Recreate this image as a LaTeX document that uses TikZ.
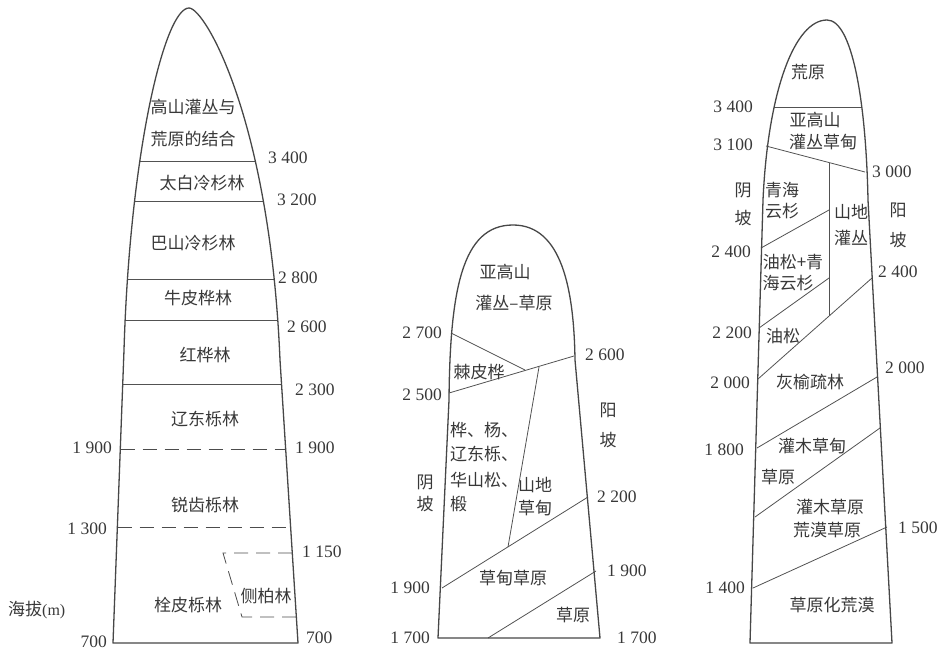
\documentclass[tikz,border=0pt]{standalone}
\usepackage{fontspec}
\setmainfont{Liberation Serif}
\newfontfamily\cjk{Noto Sans CJK SC}
\begin{document}
\begin{tikzpicture}[x=1pt,y=-1pt,
  outl/.style={draw=black!72,line width=1.3pt,line join=round},
  zline/.style={draw=black!68,line width=0.8pt},
  dline/.style={draw=black!70,line width=0.8pt,dash pattern=on 14pt off 8pt},
  zh/.style={font=\cjk\fontsize{17}{17}\selectfont,text=black!78,inner sep=0pt},
  num/.style={font=\fontsize{17.5}{17.5}\selectfont,text=black!78,inner sep=0pt},
  nl/.style={num,anchor=west},
  nr/.style={num,anchor=east}]
\useasboundingbox (0,0) rectangle (942,650);
%----------------- left mountain
\def\leftM{(113,643) -- (124,350) .. controls (130,150) and (165,8) .. (189,8) .. controls (205,8) and (270,120) .. (280,360) -- (298,643) -- cycle}
\begin{scope}
\clip \leftM;
\foreach \yy in {161,201,279,320,384}{\draw[zline] (100,\yy) -- (310,\yy);}
\end{scope}
\draw[dline] (120.5,449) -- (285.8,449);
\draw[dline] (117.5,527) -- (290.6,527);
\draw[outl] \leftM;
\draw[dline] (292,553) -- (223,553) -- (242,617) -- (296.5,617);
\node[zh] (l1) at (193,107) {高山灌丛与};
\node[zh] (l2) at (193,139) {荒原的结合};
\node[nl] (ln1) at (268,158) {3 400};
\node[zh] (l3) at (202,183) {太白冷杉林};
\node[nl] (ln2) at (277,200) {3 200};
\node[zh] (l4) at (193,243) {巴山冷杉林};
\node[nl] (ln3) at (278,278) {2 800};
\node[zh] (l5) at (198,298) {牛皮桦林};
\node[nl] (ln4) at (287,327) {2 600};
\node[zh] (l6) at (205,355) {红桦林};
\node[nl] (ln5) at (295,390) {2 300};
\node[zh] (l7) at (205,419) {辽东栎林};
\node[nr] (ln6) at (112,448) {1 900};
\node[nl] (ln7) at (295,448) {1 900};
\node[zh] (l8) at (205,505) {锐齿栎林};
\node[nr] (ln8) at (107,529) {1 300};
\node[nl] (ln9) at (302,552) {1 150};
\node[zh] (l9) at (188,605) {栓皮栎林};
\node[zh] (l10) at (266,596) {侧柏林};
\node[anchor=west,inner sep=0pt,text=black!78] (alt) at (8,610) {{\cjk\fontsize{17}{17}\selectfont 海拔}{\fontsize{16}{16}\selectfont(m)}};
\node[nr] (ln10) at (107,642) {700};
\node[nl] (ln11) at (306,638) {700};
%----------------- middle mountain
\def\midM{(438,638) -- (449,400) .. controls (450,290) and (462,225) .. (513,225) .. controls (562,225) and (574,290) .. (575,360) -- (600,638) -- cycle}
\draw[zline] (451,333) -- (525,370);
\draw[zline] (449,393) -- (574,356);
\draw[zline] (539,367) -- (508,547);
\draw[zline] (442,588) -- (588,497);
\draw[zline] (596,571) -- (488,638);
\draw[outl] \midM;
\node[zh] (m1) at (505,272) {亚高山};
\node[zh] (m2) at (514,303) {灌丛–草原};
\node[nr] (mn1) at (442,333) {2 700};
\node[zh] (m3) at (479,372) {棘皮桦};
\node[nl] (mn2) at (585,355) {2 600};
\node[nr] (mn3) at (442,395) {2 500};
\node[zh] (m4) at (608,410) {阳};
\node[zh] (m5) at (608,440) {坡};
\node[zh,anchor=west] (m6) at (450,430) {桦、杨、};
\node[zh,anchor=west] (m7) at (450,454) {辽东栎、};
\node[zh,anchor=west] (m8) at (450,480) {华山松、};
\node[zh,anchor=west] (m9) at (450,504) {椴};
\node[zh] (m10) at (425,482) {阴};
\node[zh] (m11) at (425,504) {坡};
\node[zh] (m12) at (535,485) {山地};
\node[zh] (m13) at (535,508) {草甸};
\node[nl] (mn4) at (597,497) {2 200};
\node[zh] (m14) at (513,578) {草甸草原};
\node[nr] (mn5) at (430,588) {1 900};
\node[nl] (mn6) at (607,571) {1 900};
\node[zh] (m15) at (573,615) {草原};
\node[nr] (mn7) at (430,638) {1 700};
\node[nl] (mn8) at (617,638) {1 700};
%----------------- right mountain
\def\rightM{(750,643) -- (763,200) .. controls (768,90) and (795,20) .. (827,20) .. controls (852,20) and (866,100) .. (868,200) -- (892,643) -- cycle}
\begin{scope}
\clip \rightM;
\draw[zline] (740,107) -- (900,107);
\end{scope}
\draw[zline] (766,146) -- (865,172);
\draw[zline] (829,163) -- (829,316);
\draw[zline] (761,248) -- (829,210);
\draw[zline] (759,328) -- (829,278);
\draw[zline] (758,379) -- (872,278);
\draw[zline] (757,448) -- (877,377);
\draw[zline] (755,517) -- (880,428);
\draw[zline] (753,588) -- (887,527);
\draw[outl] \rightM;
\node[zh] (r1) at (808,72) {荒原};
\node[nr] (rn1) at (753,107) {3 400};
\node[zh] (r2) at (815,120) {亚高山};
\node[zh] (r3) at (823,142) {灌丛草甸};
\node[nr] (rn2) at (753,145) {3 100};
\node[nl] (rn3) at (872,172) {3 000};
\node[zh] (r4) at (743,190) {阴};
\node[zh] (r5) at (743,218) {坡};
\node[zh] (r6) at (782,190) {青海};
\node[zh] (r7) at (782,211) {云杉};
\node[zh] (r8) at (851,212) {山地};
\node[zh] (r9) at (851,238) {灌丛};
\node[zh] (r10) at (898,210) {阳};
\node[zh] (r11) at (898,240) {坡};
\node[nr] (rn4) at (751,252) {2 400};
\node[zh] (r12) at (793,262) {油松+青};
\node[zh] (r13) at (788,283) {海云杉};
\node[nl] (rn5) at (878,272) {2 400};
\node[nr] (rn6) at (752,333) {2 200};
\node[zh] (r14) at (783,336) {油松};
\node[nr] (rn7) at (750,383) {2 000};
\node[zh] (r15) at (810,382) {灰榆疏林};
\node[nl] (rn8) at (885,368) {2 000};
\node[nr] (rn9) at (744,450) {1 800};
\node[zh] (r16) at (812,446) {灌木草甸};
\node[zh] (r17) at (778,477) {草原};
\node[zh] (r18) at (830,507) {灌木草原};
\node[zh] (r19) at (827,530) {荒漠草原};
\node[nl] (rn10) at (898,528) {1 500};
\node[nr] (rn11) at (745,588) {1 400};
\node[zh] (r20) at (832,605) {草原化荒漠};
\end{tikzpicture}
\end{document}
